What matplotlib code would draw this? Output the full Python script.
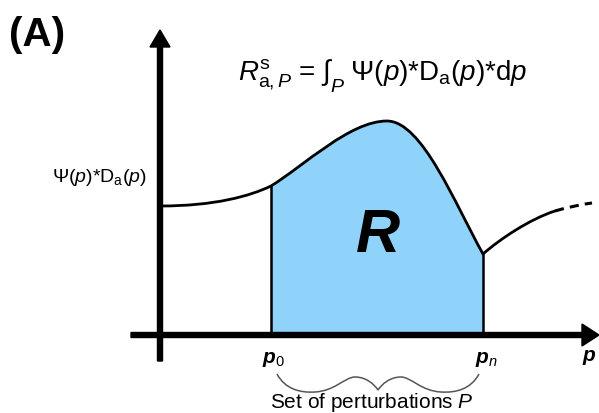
import numpy as np
import matplotlib
matplotlib.use('Agg')
import matplotlib.pyplot as plt
from matplotlib.path import Path
from matplotlib.patches import PathPatch

plt.rcParams['font.family'] = ['Liberation Sans', 'DejaVu Sans']
plt.rcParams['mathtext.fontset'] = 'custom'
plt.rcParams['mathtext.rm'] = 'Liberation Sans'
plt.rcParams['mathtext.it'] = 'Liberation Sans:italic'
plt.rcParams['mathtext.bf'] = 'Liberation Sans:bold:italic'

# schematic curve Psi(p)*D_a(p), bezier nodes (x, y) with origin at the axes crossing
curve_start = (0, 129)
curve_segs = [  # ctrl1, ctrl2, end
    [(55, 129), (90, 139), (111, 149)],
    [(145, 170), (190, 214), (227, 214)],
    [(262, 214), (295, 131), (323, 81)],
    [(340, 96), (370, 116), (395, 124)],
]
dash_ctrl = (415, 130)
dash_end = (432, 132)

p0 = 111
pn = 323

# curly brace under p0..pn
brace_start = (117, -39)
brace_segs = [
    [(125, -54), (140, -58), (155, -57)],
    [(175, -56), (185, -42), (195, -42)],
    [(206, -42), (214, -49), (218, -55)],
    [(222, -49), (230, -42), (241, -42)],
    [(251, -42), (261, -56), (281, -57)],
    [(296, -58), (311, -54), (319, -39)],
]

fill_col = '#8FD3FA'


def bez_path(start, segs):
    verts = [start]
    codes = [Path.MOVETO]
    for s in segs:
        verts += s
        codes += [Path.CURVE4] * 3
    return verts, codes


fig = plt.figure(figsize=(5.99, 4.14), dpi=100)
ax = fig.add_axes([0, 0, 1, 1])
ax.set_xlim(-160, 439)
ax.set_ylim(-78, 336)
ax.axis('off')

# shaded area R between p0 and pn
v, c = bez_path(curve_segs[0][2], curve_segs[1:3])
v += [(pn, 0), (p0, 0), (p0, curve_segs[0][2][1])]
c += [Path.LINETO, Path.LINETO, Path.CLOSEPOLY]
ax.add_patch(PathPatch(Path(v, c), facecolor=fill_col, edgecolor='none', zorder=1))

# boundaries
ax.plot([p0, p0], [0, curve_segs[0][2][1]], color='black', lw=1.8, zorder=2)
ax.plot([pn, pn], [0, curve_segs[2][2][1]], color='black', lw=1.8, zorder=2)

# curve
v, c = bez_path(curve_start, curve_segs)
ax.add_patch(PathPatch(Path(v, c), facecolor='none', edgecolor='black', lw=2, zorder=3,
                       capstyle='round', joinstyle='round'))
ax.add_patch(PathPatch(Path([curve_segs[-1][2], dash_ctrl, dash_end],
                            [Path.MOVETO, Path.CURVE3, Path.CURVE3]),
                       facecolor='none', edgecolor='black', lw=2.2, ls=(0, (3, 2)), zorder=3))

# axes arrows
ax.arrow(0, -26, 0, 331, width=5, head_width=20, head_length=17,
         length_includes_head=True, fc='black', ec='black', zorder=4)
ax.arrow(-29, 0, 468, 0, width=5, head_width=22, head_length=17,
         length_includes_head=True, fc='black', ec='black', zorder=4)

# brace
v, c = bez_path(brace_start, brace_segs)
ax.add_patch(PathPatch(Path(v, c), facecolor='none', edgecolor='#555555', lw=1.1, zorder=3))

# texts
ax.text(-151, 301, '(A)', fontsize=29, fontweight='bold', ha='left', va='center')
ax.text(223, 261, r'$R^{\mathrm{s}}_{\mathrm{a},P}$ = $\int_P$ $\Psi(p)\mathrm{*D}_{\mathrm{a}}(p)\mathrm{*d}p$',
        fontsize=20, ha='center', va='center')
ax.text(-13, 159, r'$\Psi(p)\mathrm{*D}_{\mathrm{a}}(p)$', fontsize=14, ha='right', va='center')
ax.text(218, 99, 'R', fontsize=44, fontweight='bold', style='italic', ha='center', va='center')
ax.text(p0 + 3, -24, r'$\mathbf{p}_{\mathit{0}}$', fontsize=15, ha='center', va='center')
ax.text(pn + 3, -24, r'$\mathbf{p}_{\mathit{n}}$', fontsize=15, ha='center', va='center')
ax.text(429, -22, r'$\mathbf{p}$', fontsize=15, ha='center', va='center')
ax.text(212, -67, 'Set of perturbations $P$', fontsize=15, ha='center', va='center')

fig.savefig('out.png', dpi=100)
